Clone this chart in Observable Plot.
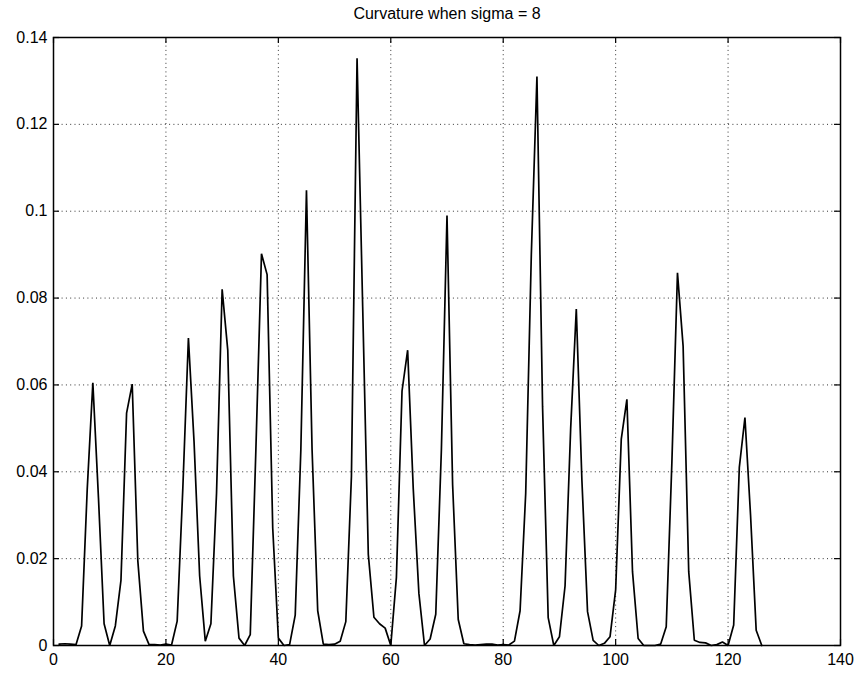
<!DOCTYPE html>
<html>
<head>
<meta charset="utf-8">
<script src="https://cdn.jsdelivr.net/npm/d3@7"></script>
<script src="https://cdn.jsdelivr.net/npm/@observablehq/plot@0.6"></script>
<style>
  html, body { margin: 0; padding: 0; background: #fff; }
  #chart svg { display: block; }
</style>
</head>
<body>
<div id="chart"></div>
<script>
const chartTitle = "Curvature when sigma = 8";

// sample index along the contour (1..126)
const sampleIndex = d3.range(1, 127);

// curvature values
const curvature = [
  0.0003, 0.0004, 0.0003, 0.0002, 0.0045, 0.036, 0.0605, 0.034, 0.005, 0.0,
  0.0045, 0.015, 0.0535, 0.0602, 0.0195, 0.0033, 0.0002, 0.0002, 0.0001, 0.0003,
  0.0001, 0.0056, 0.036, 0.0708, 0.047, 0.016, 0.001, 0.005, 0.035, 0.082,
  0.068, 0.016, 0.0017, 0.0, 0.0025, 0.045, 0.0902, 0.0854, 0.027, 0.0017,
  0.0, 0.0002, 0.007, 0.045, 0.1048, 0.045, 0.008, 0.0003, 0.0002, 0.0003,
  0.001, 0.0055, 0.039, 0.1352, 0.078, 0.021, 0.0065, 0.005, 0.004, 0.0,
  0.0157, 0.0586, 0.068, 0.036, 0.012, 0.0, 0.0015, 0.0072, 0.045, 0.099,
  0.037, 0.006, 0.0004, 0.0002, 0.0001, 0.0002, 0.0003, 0.0003, 0.0001, 0.0002,
  0.0001, 0.001, 0.008, 0.035, 0.09, 0.131, 0.055, 0.0064, 0.0, 0.002,
  0.0137, 0.05, 0.0775, 0.038, 0.0078, 0.0012, 0.0, 0.0005, 0.002, 0.0128,
  0.0475, 0.0567, 0.017, 0.0016, 0.0, 0.0, 0.0, 0.0003, 0.0043, 0.042,
  0.0858, 0.069, 0.017, 0.0012, 0.0007, 0.0006, 0.0, 0.0002, 0.0008, 0.0,
  0.0047, 0.041, 0.0525, 0.03, 0.0035, 0.0
];

const xTicks = [0, 20, 40, 60, 80, 100, 120, 140];
const yTicks = [0, 0.02, 0.04, 0.06, 0.08, 0.1, 0.12, 0.14];
const yTickLabels = ["0", "0.02", "0.04", "0.06", "0.08", "0.1", "0.12", "0.14"];

const data = sampleIndex.map((i, k) => ({i, c: curvature[k]}));

const W = 859, H = 673;
const mL = 53, mR = 19, mT = 37, mB = 28;
const frameH = H - mT - mB, frameW = W - mL - mR;
const tickLen = 6;
const grid = {stroke: "black", strokeOpacity: 0.8, strokeWidth: 1, strokeDasharray: "1,3.3"};

const chart = Plot.plot({
  width: W,
  height: H,
  marginLeft: mL,
  marginRight: mR,
  marginTop: mT,
  marginBottom: mB,
  style: {fontFamily: "'Liberation Sans', Arial, Helvetica, sans-serif", fontSize: "16px", color: "black", background: "white"},
  x: {domain: [0, 140], ticks: xTicks, label: null},
  y: {domain: [0, 0.14], ticks: yTicks, label: null},
  marks: [
    Plot.gridX(xTicks, grid),
    Plot.gridY(yTicks, grid),
    // inward ticks on all four sides
    Plot.tickX(xTicks, {x: d => d, insetTop: frameH - tickLen, stroke: "black", strokeWidth: 1.2}),
    Plot.tickX(xTicks, {x: d => d, insetBottom: frameH - tickLen, stroke: "black", strokeWidth: 1.2}),
    Plot.tickY(yTicks, {y: d => d, insetRight: frameW - tickLen, stroke: "black", strokeWidth: 1.2}),
    Plot.tickY(yTicks, {y: d => d, insetLeft: frameW - tickLen, stroke: "black", strokeWidth: 1.2}),
    Plot.axisX(xTicks, {anchor: "bottom", tickSize: 0, tickPadding: 8, fontSize: 16, label: null}),
    Plot.axisY(yTicks, {anchor: "left", tickSize: 0, tickPadding: 6, fontSize: 16, label: null,
      tickFormat: d => yTickLabels[yTicks.indexOf(d)]}),
    Plot.line(data, {x: "i", y: "c", stroke: "black", strokeWidth: 1.7, strokeLinejoin: "miter"}),
    Plot.frame({stroke: "black", strokeWidth: 1.5}),
    Plot.text([chartTitle], {frameAnchor: "top", dy: -19, lineAnchor: "bottom", text: d => d, fontSize: 16, fill: "black"})
  ]
});

document.getElementById("chart").appendChild(chart);
</script>
</body>
</html>
